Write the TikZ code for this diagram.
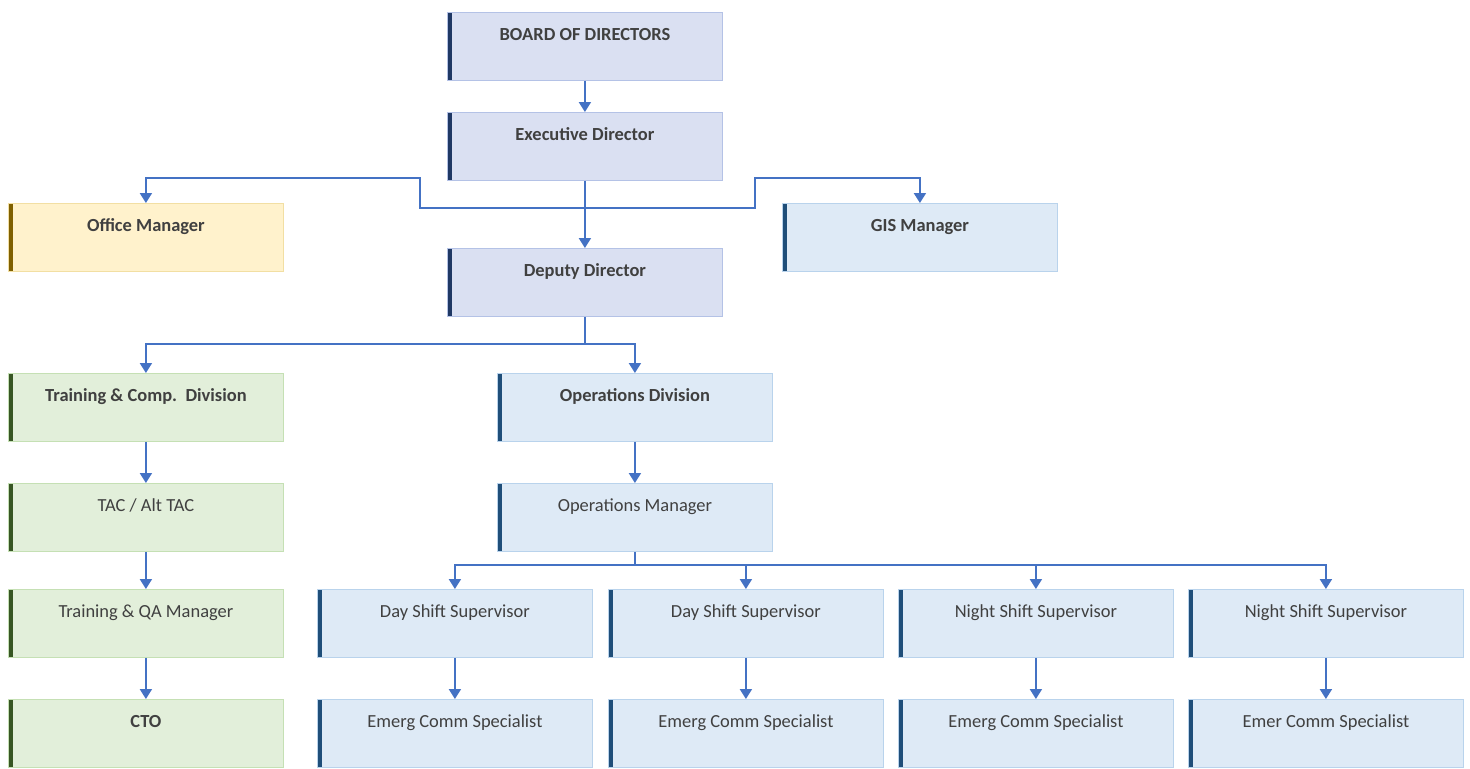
\documentclass[tikz,border=0pt]{standalone}
\usepackage{fontspec}
\setmainfont{Carlito}
\usetikzlibrary{arrows.meta,calc}

\definecolor{textgrey}{HTML}{404040}
\definecolor{linkblue}{HTML}{4472C4}
\definecolor{boardfill}{HTML}{DAE0F2}
\definecolor{boardline}{HTML}{B4C2E6}
\definecolor{boardbar}{HTML}{1F3864}
\definecolor{opsfill}{HTML}{DEEAF6}
\definecolor{opsline}{HTML}{B9D3EC}
\definecolor{opsbar}{HTML}{1F4E79}
\definecolor{officefill}{HTML}{FFF2CC}
\definecolor{officeline}{HTML}{F2DFA3}
\definecolor{officebar}{HTML}{7F6000}
\definecolor{trainfill}{HTML}{E2EFDA}
\definecolor{trainline}{HTML}{C5E0B4}
\definecolor{trainbar}{HTML}{375623}

\tikzset{
  unitbox/.style={rectangle, anchor=north west, minimum width=5.5cm,
    inner ysep=0pt, text height=0.56cm, text depth=0.8cm, line width=0.5pt,
    text=textgrey, font=\fontsize{10.5}{12}\selectfont},
  bar/.style={path picture={\fill[#1] (path picture bounding box.north west)
    rectangle ([xshift=0.1cm]path picture bounding box.south west);}},
  boardbox/.style={unitbox, fill=boardfill, draw=boardline, bar=boardbar},
  opsbox/.style={unitbox, fill=opsfill, draw=opsline, bar=opsbar},
  officebox/.style={unitbox, fill=officefill, draw=officeline, bar=officebar},
  trainbox/.style={unitbox, fill=trainfill, draw=trainline, bar=trainbar},
  link/.style={draw=linkblue, line width=0.9pt},
  tip/.style={link, -{Triangle[width=6.8pt,length=5.6pt]}}
}

\begin{document}
\begin{tikzpicture}[x=0.02cm,y=-0.02cm]
  \useasboundingbox (0,0) rectangle (1470,768);

  % top of the chart
  \node[boardbox] (board) at (447,12) {\bfseries BOARD OF DIRECTORS};
  \node[boardbox] (exec) at (447,112) {\bfseries Executive Director};
  \node[officebox] (office) at (8,203) {\bfseries Office Manager};
  \node[opsbox] (gis) at (782,203) {\bfseries GIS Manager};
  \node[boardbox] (deputy) at (447,248) {\bfseries Deputy Director};

  % training side
  \node[trainbox] (training) at (8,373) {\bfseries Training \& Comp.\ \ Division};
  \node[trainbox] (tac) at (8,483) {TAC / Alt TAC};
  \node[trainbox] (qa) at (8,589) {Training \& QA Manager};
  \node[trainbox] (cto) at (8,699) {\bfseries CTO};

  % operations side
  \node[opsbox] (opsdiv) at (497,373) {\bfseries Operations Division};
  \node[opsbox] (opsmgr) at (497,483) {Operations Manager};
  \node[opsbox] (sup1) at (317,589) {Day Shift Supervisor};
  \node[opsbox] (sup2) at (608,589) {Day Shift Supervisor};
  \node[opsbox] (sup3) at (898,589) {Night Shift Supervisor};
  \node[opsbox] (sup4) at (1188,589) {Night Shift Supervisor};
  \node[opsbox] (spec1) at (317,699) {Emerg Comm Specialist};
  \node[opsbox] (spec2) at (608,699) {Emerg Comm Specialist};
  \node[opsbox] (spec3) at (898,699) {Emerg Comm Specialist};
  \node[opsbox] (spec4) at (1188,699) {Emer Comm Specialist};

  % connectors
  \coordinate (esplit) at ($(exec.south)+(0,27)$);
  \coordinate (dsplit) at ($(deputy.south)+(0,27)$);
  \coordinate (msplit) at ($(opsmgr.south)+(0,13)$);

  \draw[tip] (board) -- (exec);
  \draw[tip] (exec) -- (deputy);
  \draw[tip] (esplit) -| (420,178) -| (office.north);
  \draw[tip] (esplit) -| (755,178) -| (gis.north);

  \draw[link] (deputy) -- (dsplit);
  \draw[tip] (dsplit) -| (training.north);
  \draw[tip] (dsplit) -| (opsdiv.north);

  \draw[tip] (training) -- (tac);
  \draw[tip] (tac) -- (qa);
  \draw[tip] (qa) -- (cto);

  \draw[tip] (opsdiv) -- (opsmgr);
  \draw[link] (opsmgr) -- (msplit);
  \foreach \s in {1,...,4} {
    \draw[tip] (msplit) -| (sup\s.north);
    \draw[tip] (sup\s) -- (spec\s);
  }
\end{tikzpicture}
\end{document}
